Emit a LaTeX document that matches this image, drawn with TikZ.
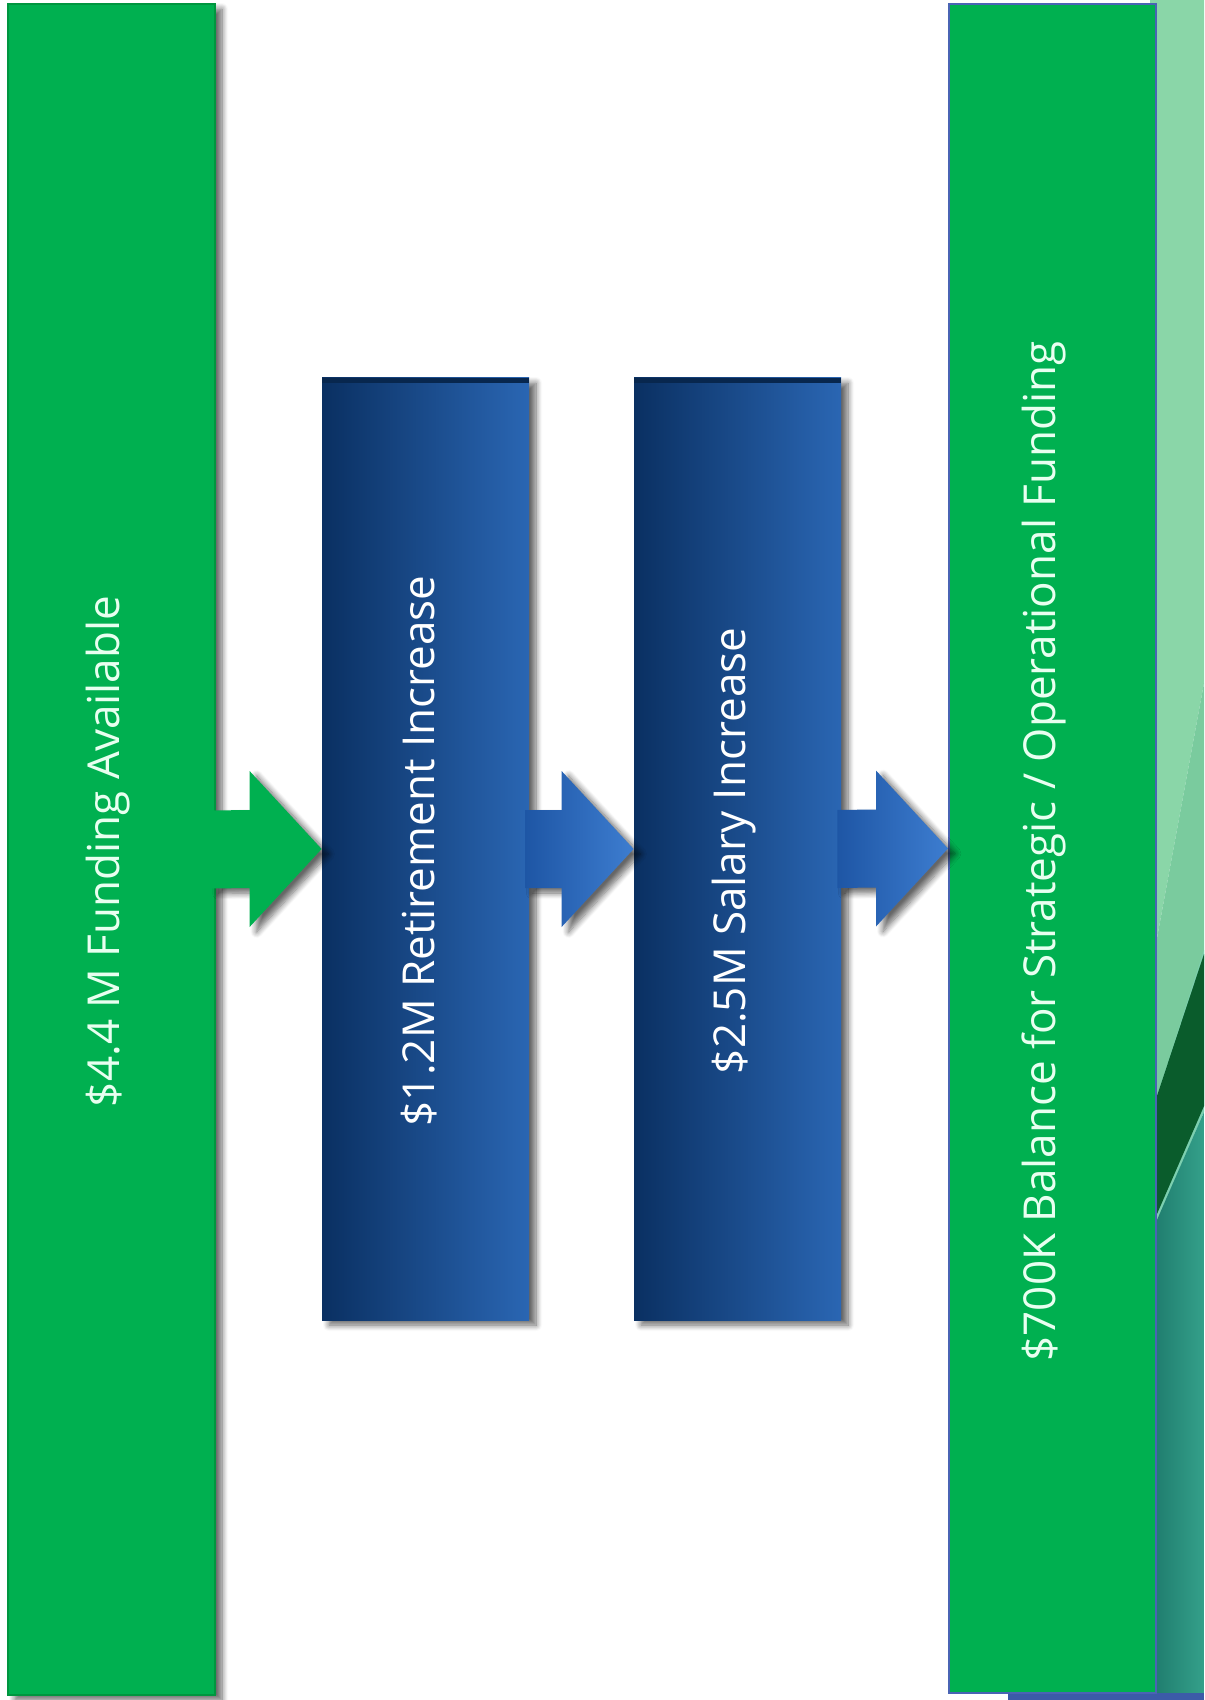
\documentclass[tikz,border=0pt]{standalone}
\usepackage{fontspec}
\setmainfont{Open Sans}
\usetikzlibrary{calc,shadows.blur}
\definecolor{grn}{HTML}{00B050}
\definecolor{grnedge}{HTML}{00963F}
\definecolor{bluedark}{HTML}{0A3062}
\definecolor{bluelight}{HTML}{2A66B3}
\definecolor{arrdark}{HTML}{1E56A5}
\definecolor{arrlight}{HTML}{3D7DD0}
\definecolor{balborder}{HTML}{4A64B4}
\definecolor{txtgreen}{HTML}{E8FFF0}
\definecolor{stripA}{HTML}{8AD6A8}
\definecolor{stripB}{HTML}{7ACB9E}
\definecolor{stripC}{HTML}{7DD0B0}
\definecolor{stripD}{HTML}{0A5C2C}
\definecolor{tealA}{HTML}{1E7A6C}
\definecolor{tealB}{HTML}{34A08A}
\definecolor{botblue}{HTML}{3C5BA8}
\tikzset{
  boxshadow/.style={blur shadow={shadow xshift=3.5pt, shadow yshift=-2.5pt, shadow blur steps=8, shadow blur radius=3pt, shadow opacity=60}},
  greenbar/.style={rectangle, fill=grn, draw=grnedge, line width=0.8pt,
    minimum width=103.5pt, inner sep=0pt, boxshadow},
  bluebox/.style={rectangle, left color=bluedark, right color=bluelight, draw=none,
    minimum width=103.5pt, minimum height=471pt, inner sep=0pt, boxshadow},
  balbar/.style={rectangle, fill=grn, draw=balborder, line width=1pt,
    minimum width=103.5pt, minimum height=844.5pt, inner sep=0pt},
  lbl/.style={rotate=90, font=\fontsize{22}{26}\selectfont, inner sep=0pt},
  greenarrow/.style={fill=grn, boxshadow},
  bluearrow/.style={left color=arrdark, right color=arrlight, boxshadow}
}
\newcommand\flowarrow[3]{%
  \path[#3] ($(#1.east)+(-4,-39)$) -- ($(#2.west)+(-72,-39)$) -- ($(#2.west)+(-72,-78)$)
    -- (#2.west) -- ($(#2.west)+(-72,78)$) -- ($(#2.west)+(-72,39)$)
    -- ($(#1.east)+(-4,39)$) -- cycle;}
\begin{document}
\begin{tikzpicture}[x=0.5pt,y=-0.5pt]
\useasboundingbox (0,0) rectangle (1204,1700);
% right-edge decoration strip
\fill[stripA] (1150,0) -- (1204,0) -- (1204,683) -- (1150,976) -- cycle;
\fill[stripB] (1150,976) -- (1204,683) -- (1204,960) -- (1150,1125) -- cycle;
\fill[stripC] (1150,1117) -- (1204,950) -- (1204,1112) -- (1150,1238) -- cycle;
\fill[stripD] (1150,1117) -- (1204,954) -- (1204,1106) -- (1150,1230) -- cycle;
\shade[left color=tealA, right color=tealB]
  (1150,1236) -- (1204,1112) -- (1204,1700) -- (1150,1700) -- cycle;
\fill[botblue] (1008,1693) rectangle (1204,1700);
% bars and boxes
\node[greenbar, minimum height=845.5pt] (fund) at (111.5,849.5) {};
\node[bluebox] (ret) at (425.5,849) {};
\node[bluebox] (sal) at (737.5,849) {};
\node[balbar] (bal) at (1052.5,848.5) {};
\fill[bluedark!80!black] (ret.north west) rectangle ($(ret.north east)+(0,5)$);
\fill[bluedark!80!black] (sal.north west) rectangle ($(sal.north east)+(0,5)$);
% arrows
\flowarrow{fund}{ret}{greenarrow}
\flowarrow{ret}{sal}{bluearrow}
\flowarrow{sal}{bal}{bluearrow}
% labels
\node[lbl, text=txtgreen] (fundtxt) at ($(fund.center)+(-3,2)$) {\$4.4 M Funding Available};
\node[lbl, text=white] (rettxt) at ($(ret.center)+(-6,2)$) {\$1.2M Retirement Increase};
\node[lbl, text=white] (saltxt) at ($(sal.center)+(-3,2)$) {\$2.5M Salary Increase};
\node[lbl, text=txtgreen] (baltxt) at ($(bal.center)+(-9,3)$) {\$700K Balance for Strategic / Operational Funding};
\end{tikzpicture}
\end{document}
